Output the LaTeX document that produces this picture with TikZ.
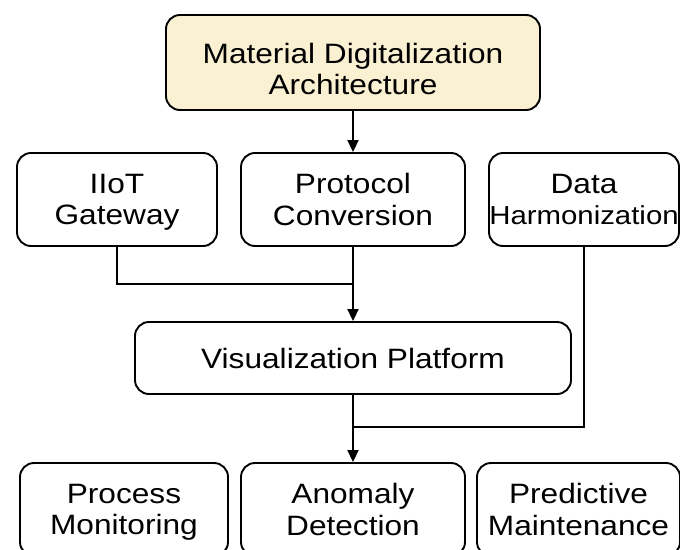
\documentclass[tikz,border=0pt]{standalone}
\usepackage{fontspec}
\setmainfont{Liberation Sans}[FakeStretch=1.13]
\usetikzlibrary{arrows.meta}
\definecolor{topfill}{HTML}{FAF0D2}
\begin{document}
\begin{tikzpicture}[x=1pt,y=-1pt,
  box/.style={draw=black, line width=1.9pt, rounded corners=14pt, align=center,
    font=\fontsize{28}{31.5}\selectfont, inner sep=0pt, minimum height=93pt, text depth=0pt},
  conn/.style={line width=1.9pt},
  arr/.style={conn,-{Triangle[length=12pt,width=11pt]}}]
\useasboundingbox (0,0) rectangle (680,549);
\clip (0,0) rectangle (680,549);
\node[box, fill=topfill, minimum width=374pt, minimum height=95pt, text height=64pt] (top) at (353,62.5) {Material Digitalization\\Architecture};
\node[box, minimum width=200pt] (iiot) at (117,199.5) {IIoT\\Gateway};
\node[box, minimum width=224pt] (proto) at (353,199.5) {Protocol\\Conversion};
\node[box, minimum width=190pt] (data) at (584,199.5) {Data\\{\fontsize{26}{31.5}\selectfont Harmonization}};
\node[box, minimum width=436pt, minimum height=72pt] (vis) at (353,358) {Visualization Platform};
\node[box, minimum width=208pt] (proc) at (124,509.5) {Process\\Monitoring};
\node[box, minimum width=224pt] (anom) at (353,509.5) {Anomaly\\Detection};
\node[box, minimum width=203pt] (pred) at (578.5,509.5) {Predictive\\Maintenance};
\coordinate (j1) at (353,284);
\coordinate (j2) at (353,427);
\draw[arr] (top) -- (proto);
\draw[conn] (iiot.south) |- (j1);
\draw[arr] (proto) -- (vis);
\draw[conn] (data.south) |- (j2);
\draw[arr] (vis) -- (anom);
\end{tikzpicture}
\end{document}
